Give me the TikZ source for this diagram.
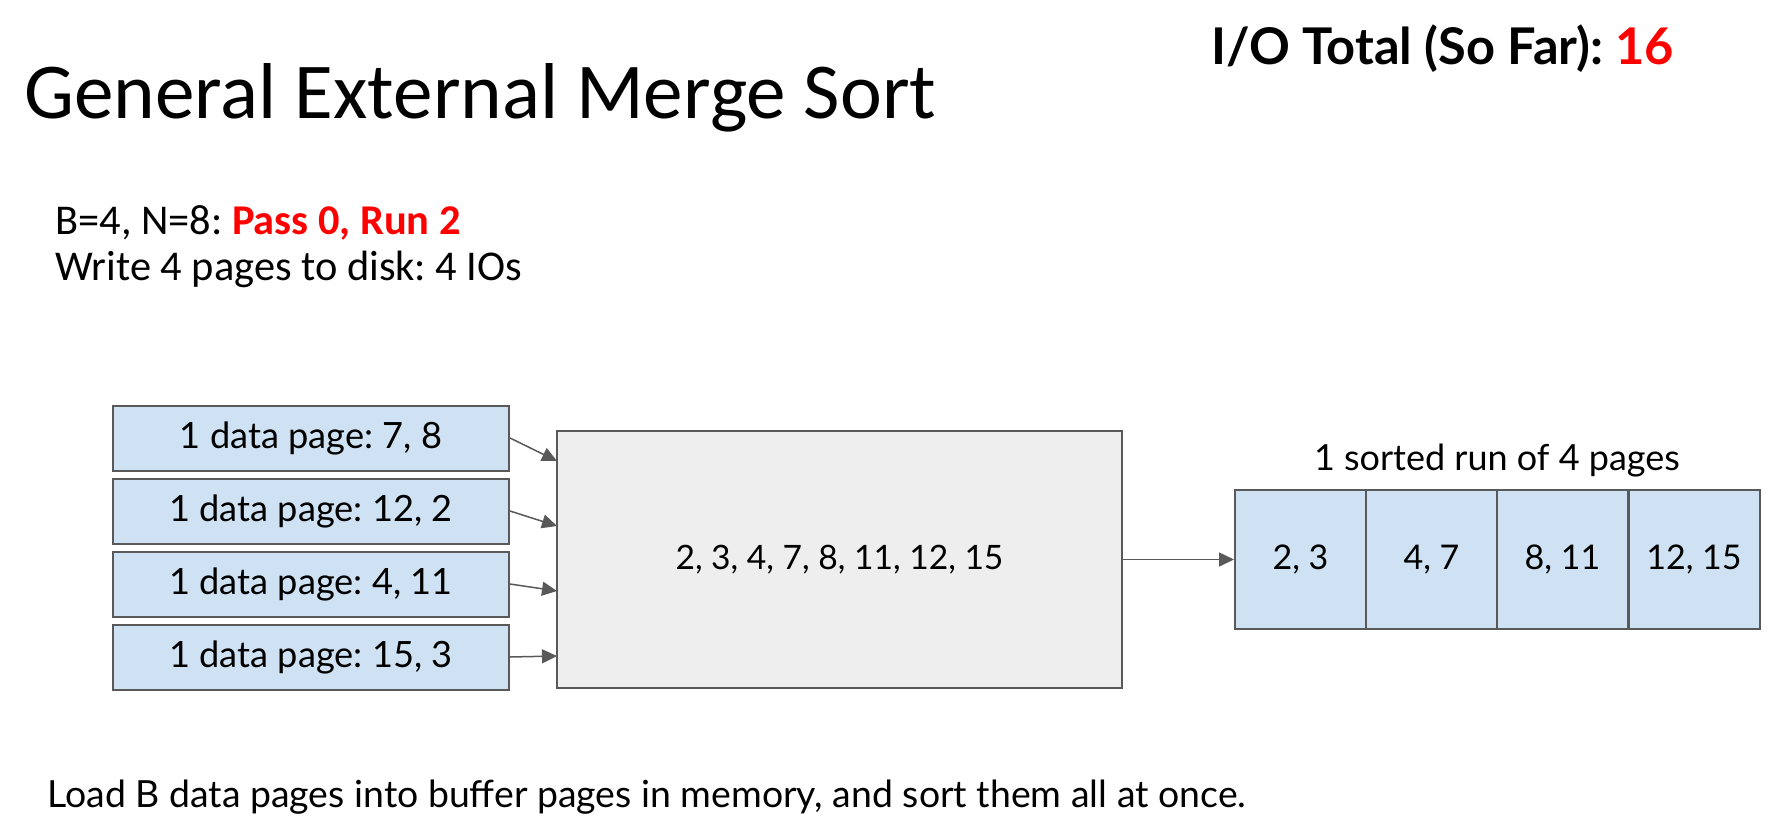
\documentclass[tikz,border=0pt]{standalone}
\usepackage{fontspec}
\setmainfont{Lato}
\newfontfamily\calfont{Carlito}
\usetikzlibrary{arrows.meta}
\frenchspacing
\definecolor{pageblue}{HTML}{CFE2F3}
\definecolor{edgegray}{HTML}{595959}
\definecolor{bufgray}{HTML}{EEEEEE}
\definecolor{hired}{HTML}{FF0000}
\begin{document}
\begin{tikzpicture}[x=0.5pt,y=-0.5pt]
        \useasboundingbox (0,0) rectangle (1769,836);
        % headings
        \node (title) [anchor=base west,inner sep=0] at (24,118)
            {\calfont\fontsize{39.6}{44}\selectfont General External Merge Sort};
        \node (iototal) [anchor=base west,inner sep=0] at (1211,64)
            {\fontsize{25.3}{30}\selectfont\bfseries I/O Total (So Far): \textcolor{hired}{16}};
        \node (params) [anchor=base west,inner sep=0] at (55,234)
            {\calfont\fontsize{21.2}{24}\selectfont B=4, N=8: \textcolor{hired}{\bfseries Pass 0, Run 2}};
        \node (writeinfo) [anchor=base west,inner sep=0] at (55,280)
            {\calfont\fontsize{21.2}{24}\selectfont Write 4 pages to disk: 4 IOs};
        \node (note) [anchor=base west,inner sep=0] at (47,807)
            {\fontsize{18.7}{22}\selectfont Load B data pages into buffer pages in memory, and sort them all at once.};
        % input pages
        \begin{scope}[every node/.style={draw=edgegray,line width=1pt,fill=pageblue,
                minimum width=198pt,minimum height=32.5pt,inner sep=0,
                font=\fontsize{18.1}{20}\selectfont}]
            \node (p1) at (311,438) {1 data page: 7, 8};
            \node (p2) at (311,511) {1 data page: 12, 2};
            \node (p3) at (311,584) {1 data page: 4, 11};
            \node (p4) at (311,657) {1 data page: 15, 3};
        \end{scope}
        % buffer in memory
        \node (buf) [draw=edgegray,line width=1pt,fill=bufgray,minimum width=282.5pt,
            minimum height=128.5pt,inner sep=0,font=\fontsize{16.8}{20}\selectfont]
            at (839.5,559.5) {2, 3, 4, 7, 8, 11, 12, 15};
        \coordinate (in1) at (557,461);
        \coordinate (in2) at (557,526);
        \coordinate (in3) at (557,591);
        \coordinate (in4) at (557,656);
        % sorted run
        \begin{scope}[every node/.style={draw=edgegray,line width=1pt,fill=pageblue,
                minimum width=65.5pt,minimum height=69.5pt,inner sep=0,
                font=\fontsize{17}{20}\selectfont}]
            \node (r1) at (1300.5,559.5) {2, 3};
            \node (r2) at (1431.5,559.5) {4, 7};
            \node (r3) at (1562.5,559.5) {8, 11};
            \node (r4) at (1694,559.5) {12, 15};
        \end{scope}
        \node (runlbl) [anchor=base,inner sep=0] at (1497,470)
            {\fontsize{18}{20}\selectfont 1 sorted run of 4 pages};
        \begin{scope}[every edge/.style={draw=edgegray,line width=0.75pt,
                -{Triangle[length=7.5pt,width=7pt]}}]
            \path
                (p1.east) edge (in1)
                (p2.east) edge (in2)
                (p3.east) edge (in3)
                (p4.east) edge (in4)
                (buf.east) edge (r1.west);
        \end{scope}
    \end{tikzpicture}
\end{document}
